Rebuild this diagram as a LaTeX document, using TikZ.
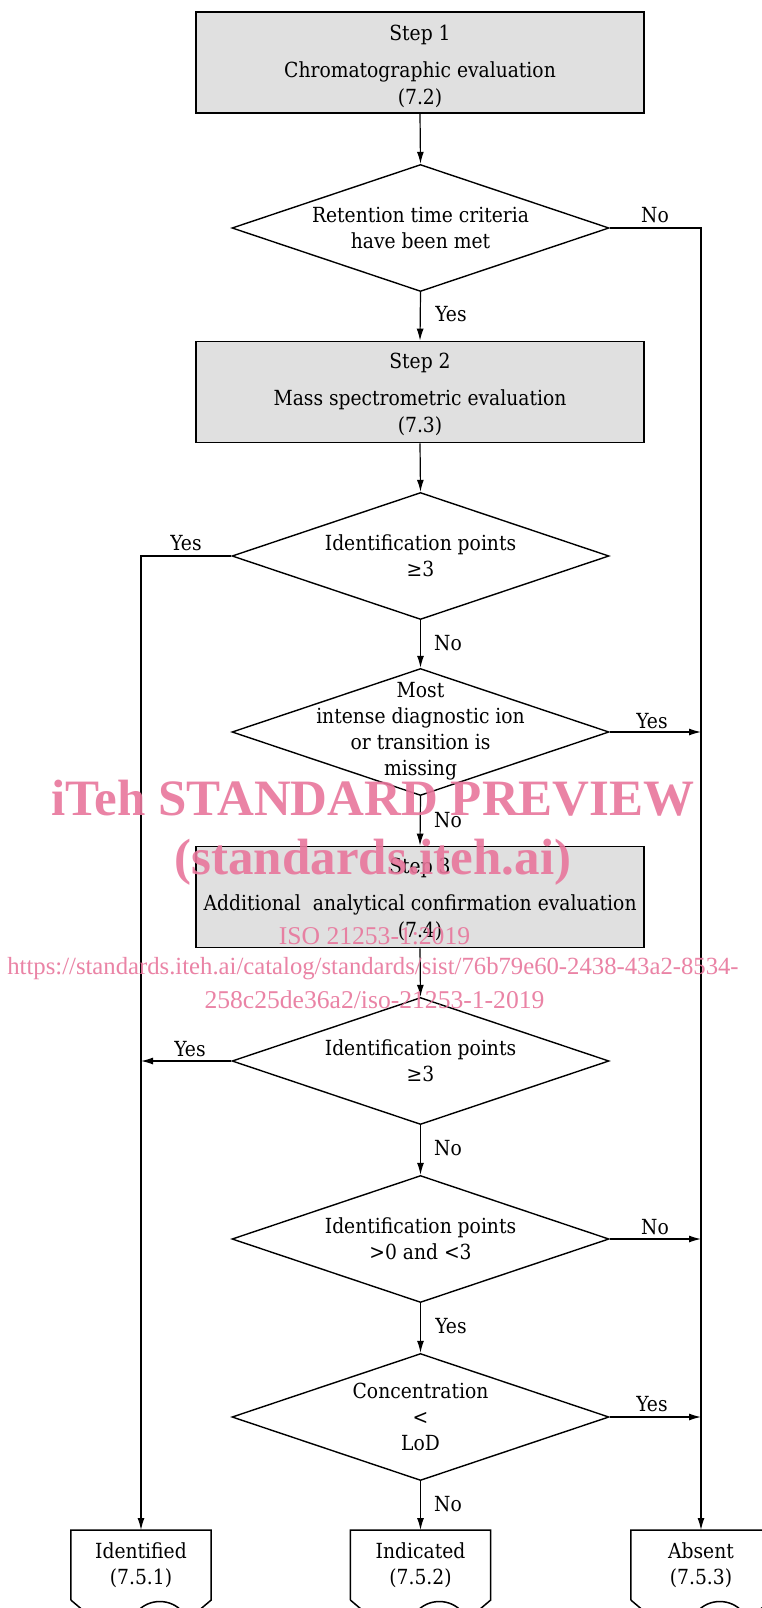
\documentclass[tikz,border=0pt]{standalone}
\usepackage{fontspec}
\setmainfont{DejaVu Serif Condensed}
\newfontfamily\wmfont{Liberation Serif}
\usetikzlibrary{shapes.geometric,arrows.meta,calc}
\definecolor{boxgray}{RGB}{224,224,224}
\definecolor{wmpink}{RGB}{232,118,156}
\newcommand\mainfs{\fontsize{20.8}{27}\selectfont}
\newcommand\diafs{\fontsize{20.8}{26}\selectfont}
\newcommand\drawdoc[1]{%
  \draw[docline] ($(#1.north west)+(0,70)$) -- (#1.north west) -- (#1.north east) -- ($(#1.north east)+(0,70)$) -- ++(-13,11);
  \draw[docline] ($(#1.north west)+(0,70)$) -- ++(13,11);
  \draw[docline] ($(#1.north west)+(66,82)$) .. controls +(12,-14) and +(-12,-14) .. ($(#1.north west)+(112,82)$);
}
\begin{document}
\begin{tikzpicture}[x=1pt,y=-1pt,
  stepbox/.style={draw,line width=1.7pt,fill=boxgray,minimum width=448pt,minimum height=101pt,inner sep=0pt},
  steptext/.style={align=center,font=\mainfs,inner sep=0pt},
  decision/.style={draw,shape=diamond,line width=1.4pt,minimum width=377pt,minimum height=127pt,inner sep=0pt},
  dtext/.style={align=center,font=\diafs,inner sep=0pt},
  docnode/.style={minimum width=140pt,minimum height=70pt,inner sep=0pt,align=center,font=\diafs,anchor=north},
  docline/.style={line width=1.5pt},
  conn/.style={line width=1.2pt,-{Latex[length=12pt,width=7pt]}},
  lab/.style={font=\mainfs,inner sep=0pt},
  wm/.style={text=wmpink,opacity=0.9,inner sep=0pt}
]
\useasboundingbox (0,0) rectangle (762,1608);
\clip (0,0) rectangle (762,1608);
\fill[white] (0,0) rectangle (762,1608);

% step boxes
\node[stepbox] (b1) at (420,62.5) {};
\node[steptext] (s1) at (420,66) {Step 1\\[10pt]Chromatographic evaluation\\(7.2)};
\node[stepbox] (b2) at (420,392) {};
\node[steptext] (s2) at (420,394) {Step 2\\[10pt]Mass spectrometric evaluation\\(7.3)};
\node[stepbox] (b3) at (420,897) {};
\node[steptext] (s3) at (420,899.5) {Step 3\\[10pt]Additional~ analytical confirmation evaluation\\(7.4)};

% decisions
\node[decision] (d1) at (420.5,228) {};
\node[dtext] (t1) at (d1.center) {Retention time criteria\\have been met};
\node[decision] (d2) at (420.5,556) {};
\node[dtext] (t2) at (d2.center) {Identification points\\≥3};
\node[decision] (d3) at (420.5,732) {};
\node[dtext] (t3) at (420.5,731.5) {Most\\intense diagnostic ion\\or transition is\\missing};
\node[decision] (d4) at (420.5,1061) {};
\node[dtext] (t4) at (d4.center) {Identification points\\≥3};
\node[decision] (d5) at (420.5,1239) {};
\node[dtext] (t5) at (d5.center) {Identification points\\>0 and <3};
\node[decision] (d6) at (420.5,1417) {};
\node[dtext] (t6) at (d6.center) {Concentration\\<\\LoD};

% outcome documents
\node[docnode] (ident) at (141,1530) {Identified\\(7.5.1)};
\node[docnode] (indic) at (420.5,1530) {Indicated\\(7.5.2)};
\node[docnode] (absent) at (701,1530) {Absent\\(7.5.3)};
\drawdoc{ident}
\drawdoc{indic}
\drawdoc{absent}

% connectors
\draw[conn] (b1.south) -- (d1.north);
\draw[conn] (d1.south) -- (b2.north);
\draw[conn] (b2.south) -- (d2.north);
\draw[conn] (d2.south) -- (d3.north);
\draw[conn] (d3.south) -- (b3.north);
\draw[conn] (b3.south) -- (d4.north);
\draw[conn] (d4.south) -- (d5.north);
\draw[conn] (d5.south) -- (d6.north);
\draw[conn] (d6.south) -- (indic.north);
\draw[conn] (d1.east) -| (absent.north);
\draw[conn] (d2.west) -| (ident.north);
\draw[conn] (d3.east) -- (d3.east -| absent.north);
\draw[conn] (d5.east) -- (d5.east -| absent.north);
\draw[conn] (d6.east) -- (d6.east -| absent.north);
\draw[conn] (d4.west) -- (d4.west -| ident.north);

% labels
\node[lab] (l1) at (655,215) {No};
\node[lab] (l2) at (451,314) {Yes};
\node[lab] (l3) at (186,543) {Yes};
\node[lab] (l4) at (448,643) {No};
\node[lab] (l5) at (652,721) {Yes};
\node[lab] (l6) at (448,820) {No};
\node[lab] (l7) at (190,1049) {Yes};
\node[lab] (l8) at (448,1148) {No};
\node[lab] (l9) at (655,1227) {No};
\node[lab] (l10) at (451,1326) {Yes};
\node[lab] (l11) at (652,1404) {Yes};
\node[lab] (l12) at (448,1504) {No};

% watermark
\node[wm,font=\wmfont\bfseries\fontsize{51}{51}\selectfont] (w1) at (373,798) {iTeh STANDARD PREVIEW};
\node[wm,font=\wmfont\bfseries\fontsize{51}{51}\selectfont] (w2) at (373,862) {(standards.iteh.ai)};
\node[wm,font=\wmfont\fontsize{25.6}{26}\selectfont] (w3) at (374.5,936) {ISO 21253-1:2019};
\node[wm,font=\wmfont\fontsize{24.7}{26}\selectfont] (w4) at (373,969) {https://standards.iteh.ai/catalog/standards/sist/76b79e60-2438-43a2-8534-};
\node[wm,font=\wmfont\fontsize{25.6}{26}\selectfont] (w5) at (374.5,1000) {258c25de36a2/iso-21253-1-2019};
\end{tikzpicture}
\end{document}
